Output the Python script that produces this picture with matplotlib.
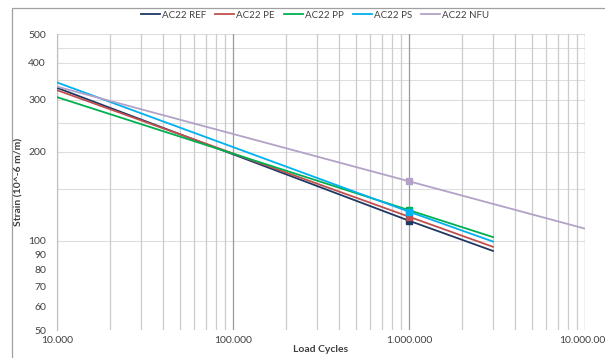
import matplotlib
matplotlib.use("Agg")
import matplotlib.pyplot as plt
from matplotlib.ticker import FixedLocator, FuncFormatter, NullFormatter
from matplotlib.patches import Rectangle
import numpy as np

plt.rcParams['font.family'] = ['Lato', 'DejaVu Sans']

series_names = ["AC22 REF", "AC22 PE", "AC22 PP", "AC22 PS", "AC22 NFU"]
cycles_main = [1e4, 1e6, 3e6]
cycles_nfu = [1e4, 1e6, 1e7]
ref_vals = [329, 117, 92.5]
pe_vals = [323, 120.7, 95.5]
pp_vals = [306, 127, 103]
ps_vals = [343, 125.5, 99.5]
nfu_vals = [332, 159, 110]
colors = ["#1F3864", "#C0504D", "#00B050", "#00B0F0", "#B3A2C7"]

x_ticks = [1e4, 1e5, 1e6, 1e7]
y_ticks = [50, 60, 70, 80, 90, 100, 200, 300, 400, 500]
y_grid = [50, 100, 150, 200, 250, 300, 350, 400, 450, 500]

fig = plt.figure(figsize=(6.05, 3.58), dpi=100)
ax = fig.add_axes([57/605, 28/358, 528/605, 296/358])
ax.set_xscale('log')
ax.set_yscale('log')
ax.set_xlim(1e4, 1e7)
ax.set_ylim(50, 500)

# grid
for yv in y_grid:
    ax.axhline(yv, color='#dedede', lw=0.8, zorder=0)
minor_x = [m * 10**e for e in range(4, 7) for m in range(2, 10)]
for xv in minor_x:
    ax.axvline(xv, color='#cccccc', lw=0.9, zorder=0)
for xv in x_ticks:
    ax.axvline(xv, color='#9a9a9a', lw=0.9, zorder=0)

data = [(cycles_main, ref_vals), (cycles_main, pe_vals), (cycles_main, pp_vals),
        (cycles_main, ps_vals), (cycles_nfu, nfu_vals)]
for (xs, ys), name, c in zip(data, series_names, colors):
    ax.plot(xs, ys, color=c, lw=1.3, label=name, marker='s', markersize=4.5,
            markevery=[1], zorder=3)

ax.xaxis.set_major_locator(FixedLocator(x_ticks))
ax.xaxis.set_minor_formatter(NullFormatter())
ax.xaxis.set_major_formatter(FuncFormatter(lambda v, p: f"{int(round(v)):,}".replace(",", ".")))
ax.yaxis.set_major_locator(FixedLocator(y_ticks))
ax.yaxis.set_minor_locator(FixedLocator([]))
ax.yaxis.set_major_formatter(FuncFormatter(lambda v, p: f"{int(round(v))}"))
ax.xaxis.set_minor_locator(FixedLocator([]))
ax.tick_params(axis='both', length=0, labelsize=7.5, colors='#404040')
ax.tick_params(axis='y', pad=8)
ax.tick_params(axis='x', pad=4)
for s in ['top', 'right', 'bottom']:
    ax.spines[s].set_visible(False)
ax.spines['left'].set_color('#bfbfbf')

ax.set_xlabel("Load Cycles", fontsize=7.5, fontweight='bold', color='#404040', labelpad=0)
ax.set_ylabel("Strain (10^-6 m/m)", fontsize=7.5, fontweight='bold', color='#404040', labelpad=3)

leg = fig.legend(loc='center', bbox_to_anchor=(315/605, 1 - 15/358), ncol=5, frameon=False,
                 fontsize=7, handlelength=2.0, columnspacing=0.9, handletextpad=0.2,
                 markerscale=0)
for h in leg.legend_handles:
    h.set_marker('')
for t in leg.get_texts():
    t.set_color('#404040')

fig.patches.append(Rectangle((12/605, -0.1), 1.2, 1 - 8/358 + 0.1, transform=fig.transFigure,
                             fill=False, edgecolor='#a0a0a0', lw=0.9))

fig.savefig("out.png", dpi=100)
